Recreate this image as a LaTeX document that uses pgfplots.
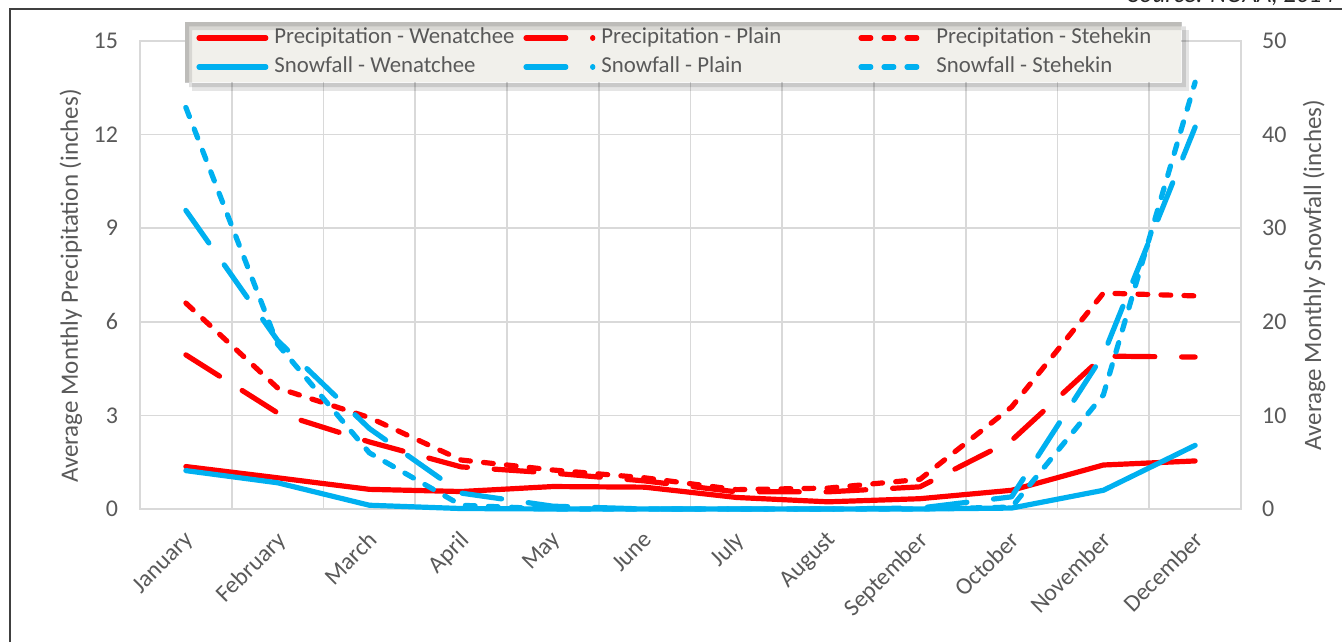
\documentclass[border=0pt]{standalone}
\usepackage{fontspec}
\setmainfont{Carlito}
\usepackage{pgfplots}
\usepackage{pgfplotstable}
\pgfplotsset{compat=1.18}
\definecolor{cred}{HTML}{FF0000}
\definecolor{cblue}{HTML}{00B0F0}
\definecolor{cgrid}{HTML}{D9D9D9}
\definecolor{ctext}{HTML}{595959}
\definecolor{clegend}{HTML}{F1F0EB}
\definecolor{cframe}{HTML}{404040}

\tikzset{
 wen/.style={line width=2.6pt, line cap=round, line join=round},
 plain/.style={line width=2.6pt, line cap=round, line join=round, dash pattern=on 19.9pt off 13.4pt},
 steh/.style={line width=2.6pt, line cap=round, line join=round, dash pattern=on 4.9pt off 6.6pt},
}

% month index, precipitation (in) and snowfall (in)
\pgfplotstableread{
x   pw    pp    ps    sw    sp    ss
0   1.36  4.94  6.60  4.1   31.9  42.9
1   1.00  3.08  3.88  2.8   18.0  17.6
2   0.63  2.15  2.93  0.4   8.6   6.0
3   0.56  1.35  1.57  0.05  1.7   0.4
4   0.72  1.15  1.25  0     0.3   0
5   0.70  0.90  1.00  0     0     0
6   0.37  0.55  0.62  0     0     0
7   0.23  0.55  0.67  0     0     0
8   0.33  0.71  0.95  0     0.1   0
9   0.60  2.20  3.27  0.1   1.3   0.2
10  1.41  4.90  6.92  2.0   16.5  12.2
11  1.54  4.87  6.83  6.8   40.8  45.6
}\data

\pgfplotsset{
 base/.style={
  scale only axis, width=550.5pt, height=234pt,
  at={(70pt,66.5pt)}, anchor=south west,
  xmin=-0.5, xmax=11.5, clip=false,
  major tick length=0pt, minor tick length=0pt,
  axis line style={cgrid, line width=0.8pt},
  tick label style={font=\fontsize{12}{14}\selectfont, text=ctext},
  /pgf/number format/assume math mode=true,
 },
}

\begin{document}
\begin{tikzpicture}
\useasboundingbox (0,0) rectangle (671pt,321pt);
\draw[cframe, line width=1pt] (5pt,0) -- (5pt,316.5pt) -- (671pt,316.5pt);
\node[anchor=base west, font=\fontsize{12.5}{14}\selectfont\itshape, text=black!85, inner sep=0pt] at (564pt,319.5pt) {Source: NOAA, 2014};

\begin{axis}[base,
  ymin=0, ymax=15, ytick={0,3,...,15},
  xtick={0,...,11},
  xticklabels={January,February,March,April,May,June,July,August,September,October,November,December},
  xticklabel style={rotate=45, anchor=north east, xshift=-4.8pt, yshift=-3pt},
  minor xtick={-0.5,0.5,...,11.5},
  xminorgrids, ymajorgrids,
  grid style={cgrid, line width=0.8pt},
  minor grid style={cgrid, line width=0.8pt},
  yticklabel style={xshift=-7.5pt},
  ylabel={Average Monthly Precipitation (inches)},
  every axis y label/.style={at={(axis description cs:-0.0627,0.4765)}, rotate=90, anchor=center, font=\fontsize{12.5}{14}\selectfont, text=ctext},
]
\addplot[cred, wen] table[x=x, y=pw] {\data};
\addplot[cred, plain] table[x=x, y=pp] {\data};
\addplot[cred, steh] table[x=x, y=ps] {\data};
\end{axis}

\begin{axis}[base,
  axis x line=none, axis y line*=right,
  ymin=0, ymax=50, ytick={0,10,...,50},
  yticklabel style={xshift=7pt},
  ylabel={Average Monthly Snowfall (inches)},
  every axis y label/.style={at={(axis description cs:1.0663,0.5)}, rotate=90, anchor=center, font=\fontsize{12.5}{14}\selectfont, text=ctext},
  legend columns=3,
  legend cell align=left,
  legend style={at={(rel axis cs:0.0409,1.0406)}, anchor=north west,
    name=leg,
    fill=clegend, draw=none,
    font=\fontsize{11.4}{13}\selectfont, text=ctext,
    inner xsep=5.5pt, inner ysep=0.5pt,
    nodes={text height=8pt, text depth=2.5pt, inner ysep=2pt, inner xsep=2pt},
  },
  legend image code/.code={\draw[#1] (0pt,0pt) -- (33.4pt,0pt);},
]
\addlegendimage{cred, wen}
\addlegendentry{\makebox[123.5pt][l]{\hspace{1pt}Precipitation - Wenatchee}}
\addlegendimage{cred, plain}
\addlegendentry{\makebox[127.5pt][l]{\hspace{1pt}Precipitation - Plain}}
\addlegendimage{cred, steh}
\addlegendentry{\makebox[116pt][l]{\hspace{1pt}Precipitation - Stehekin}}
\addplot[cblue, wen] table[x=x, y=sw] {\data};
\addlegendentry{\makebox[123.5pt][l]{\hspace{1pt}Snowfall - Wenatchee}}
\addplot[cblue, plain] table[x=x, y=sp] {\data};
\addlegendentry{\makebox[127.5pt][l]{\hspace{1pt}Snowfall - Plain}}
\addplot[cblue, steh] table[x=x, y=ss] {\data};
\addlegendentry{\makebox[116pt][l]{\hspace{1pt}Snowfall - Stehekin}}
\end{axis}
\fill[black, opacity=0.10, even odd rule]
  ([shift={(3.5pt,-4pt)}]leg.south west) rectangle ([shift={(3.5pt,-4pt)}]leg.north east)
  (leg.south west) rectangle (leg.north east);
\fill[black, opacity=0.12, even odd rule]
  ([shift={(2pt,-2.2pt)}]leg.south west) rectangle ([shift={(2pt,-2.2pt)}]leg.north east)
  (leg.south west) rectangle (leg.north east);
\end{tikzpicture}
\end{document}
